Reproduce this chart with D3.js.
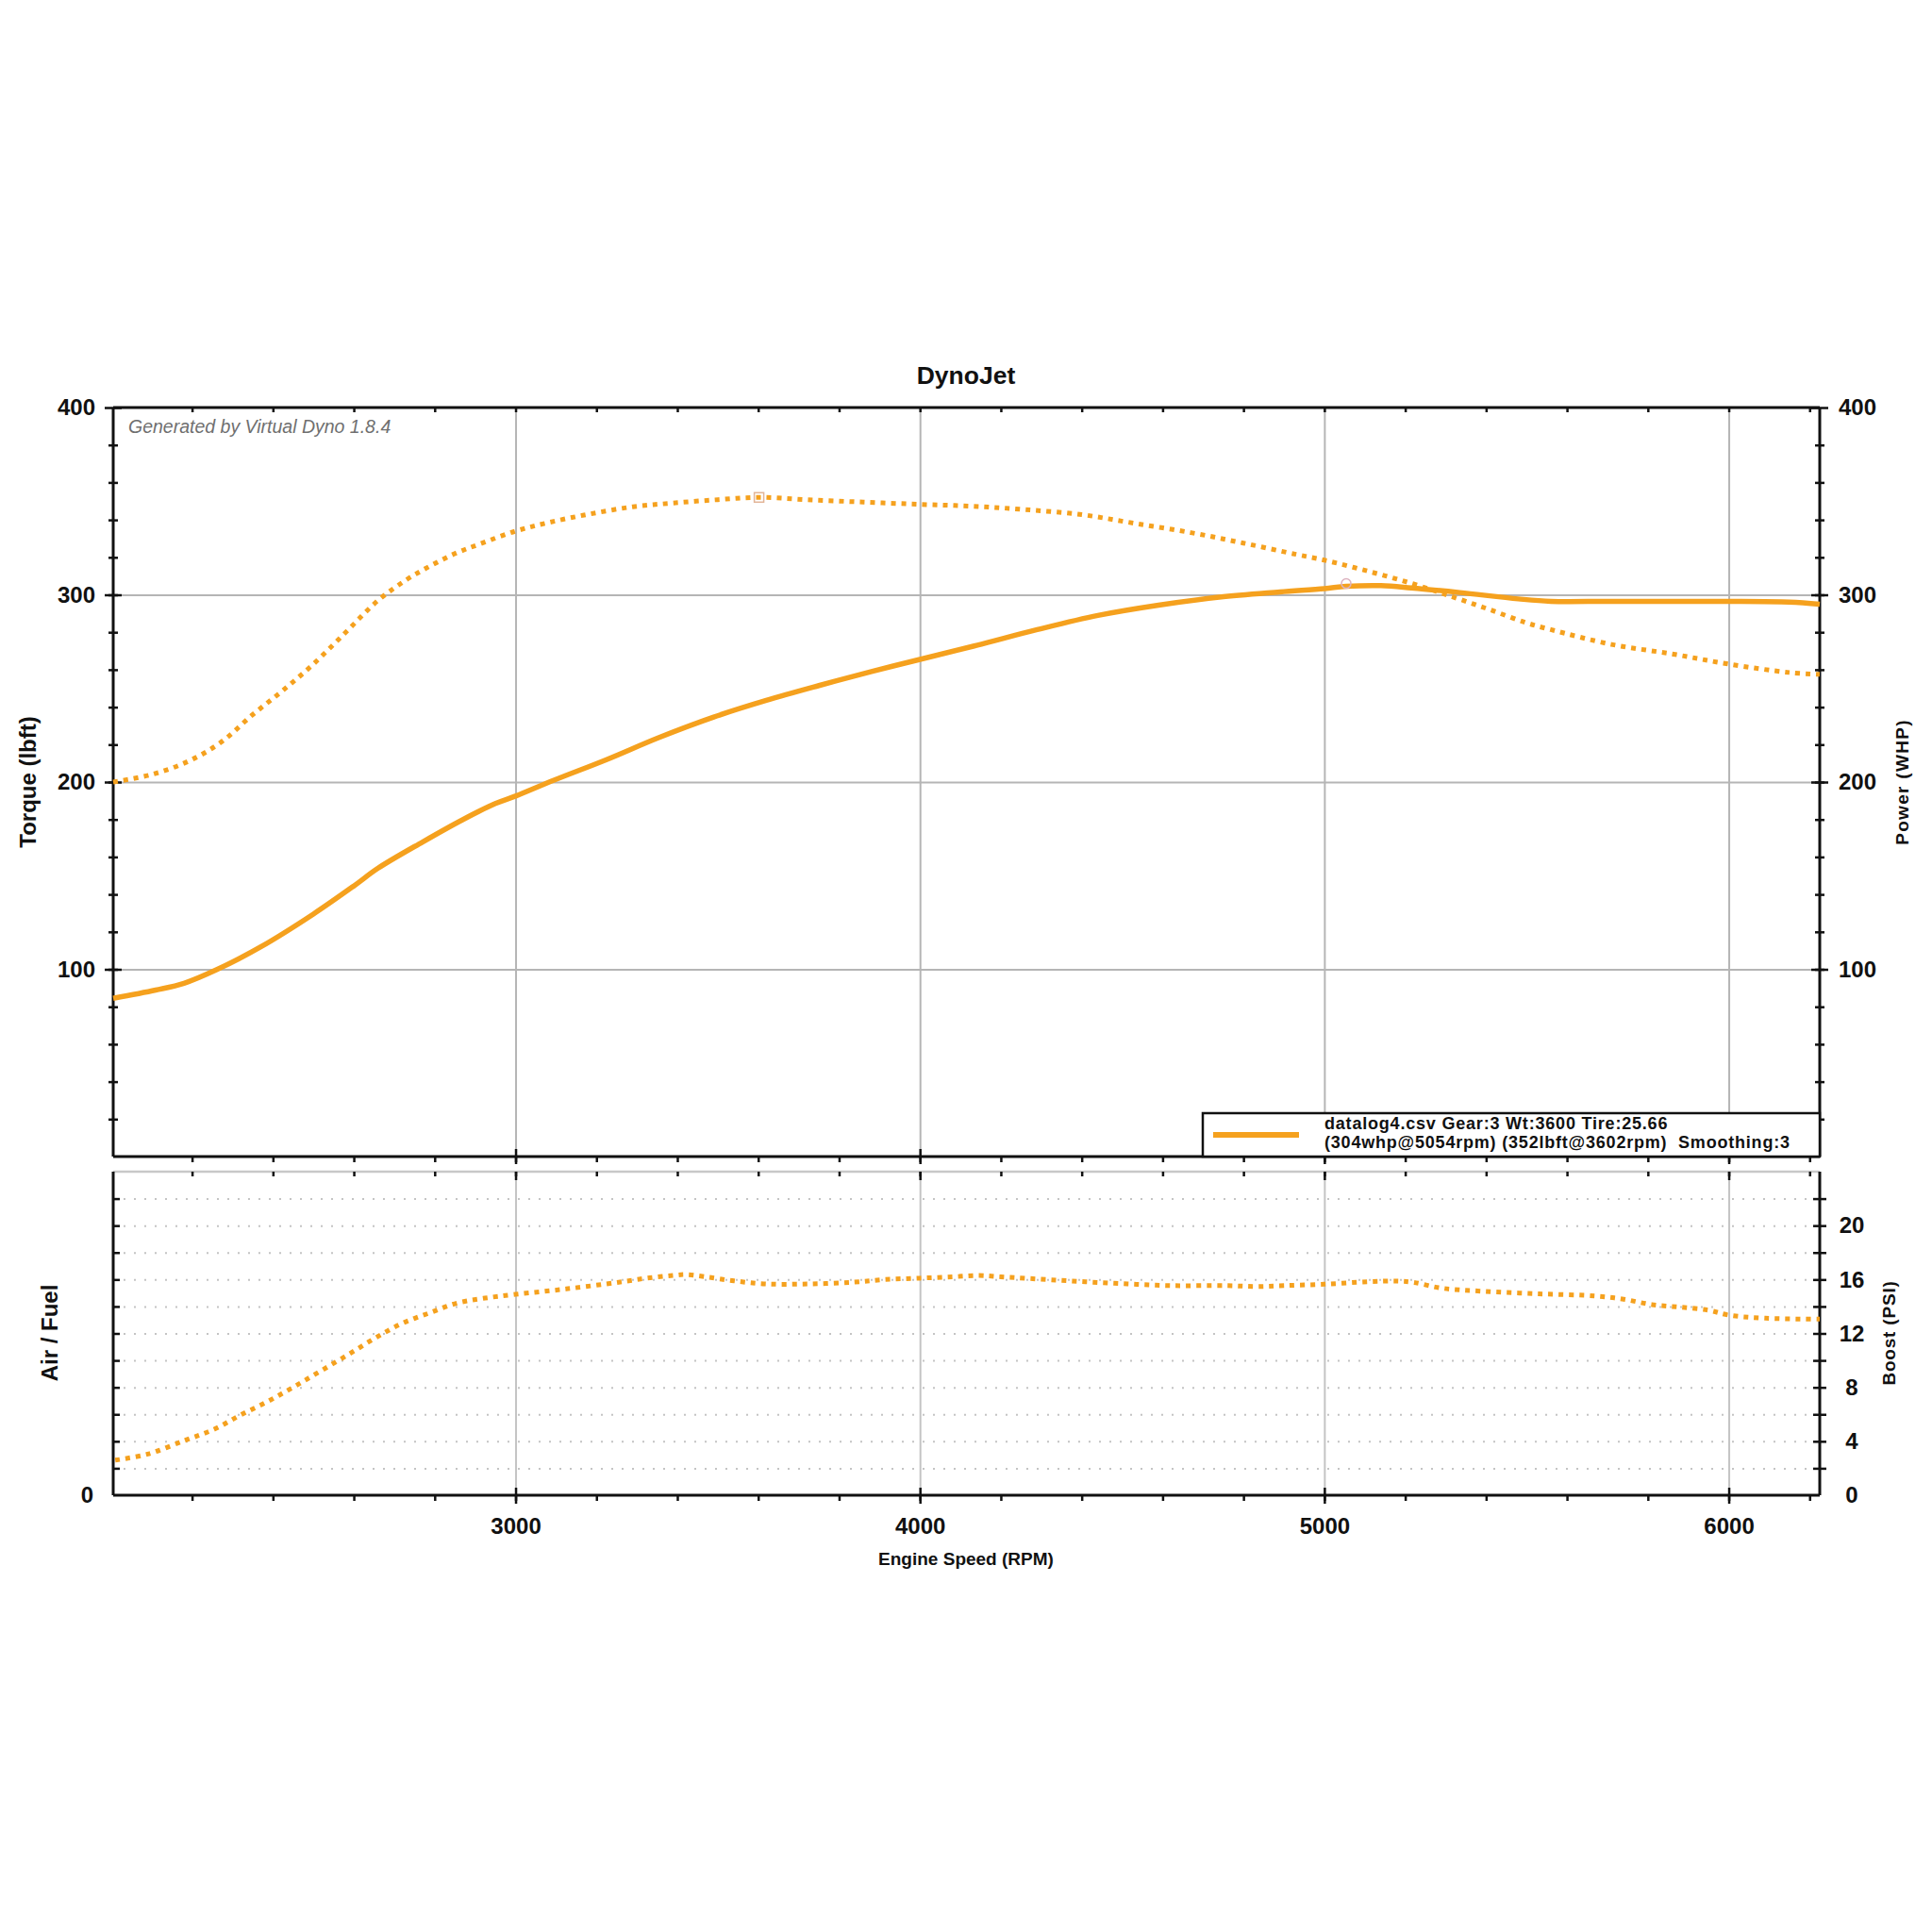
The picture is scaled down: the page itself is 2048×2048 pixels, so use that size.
<!DOCTYPE html>
<html>
<head>
<meta charset="utf-8">
<script src="https://cdn.jsdelivr.net/npm/d3@7"></script>
<style>
  body { margin: 0; background: #fff; }
  text { font-family: "Liberation Sans", Arial, sans-serif; }
</style>
</head>
<body>
<svg width="2048" height="2048"></svg>
<script>
// torque (dotted), lbft
const torqueRpm = [2005, 2100, 2190, 2270, 2350, 2425, 2500, 2580, 2660, 2730, 2790, 2850, 2910, 3000, 3080, 3180, 3290, 3390, 3500, 3602, 3720, 3860, 4000, 4130, 4260, 4400, 4530, 4670, 4800, 4930, 5000, 5110, 5220, 5320, 5410, 5500, 5560, 5710, 5860, 6000, 6150, 6225];
const torque    = [200, 204, 211, 221, 236, 249, 263, 280, 297, 308, 315.5, 322, 327, 334, 338.5, 343, 347, 349, 350.8, 352, 350.8, 349.5, 348.3, 347.3, 345.5, 342.8, 338.2, 333.2, 327.6, 321.6, 318.5, 312.5, 305.8, 298.7, 292, 285, 281.4, 273.5, 268.4, 263, 258.5, 257.5];

// power (solid), whp
const powerRpm = [2005, 2110, 2180, 2260, 2370, 2500, 2600, 2660, 2770, 2870, 2950, 3000, 3095, 3225, 3355, 3490, 3620, 3750, 3880, 4000, 4140, 4290, 4440, 4590, 4740, 4890, 5000, 5054, 5140, 5215, 5335, 5480, 5560, 5700, 5850, 6000, 6150, 6225];
const power    = [84.5, 88.9, 92.5, 99.7, 112, 129.5, 144.5, 154, 168, 180, 188.5, 192.5, 201, 212, 223.8, 234.7, 243.6, 251.5, 259, 265.5, 273, 281.4, 289, 294.5, 298.7, 301.5, 303.3, 304.5, 304.9, 303.7, 301.2, 297.8, 296.5, 296.5, 296.5, 296.5, 296.1, 295];

// boost (dotted, lower pane), psi
const boostRpm = [2010, 2090, 2185, 2255, 2320, 2390, 2455, 2520, 2590, 2655, 2720, 2790, 2855, 2920, 3000, 3125, 3255, 3325, 3390, 3420, 3470, 3540, 3620, 3725, 3835, 3915, 4000, 4080, 4145, 4200, 4340, 4480, 4620, 4760, 4830, 4900, 5000, 5110, 5180, 5220, 5290, 5390, 5530, 5670, 5740, 5810, 5880, 5950, 6000, 6090, 6225];
const boost    = [2.6, 3.05, 4.1, 4.9, 5.95, 7.0, 8.1, 9.25, 10.5, 11.7, 12.75, 13.55, 14.25, 14.6, 14.9, 15.3, 15.8, 16.1, 16.3, 16.37, 16.2, 15.9, 15.67, 15.67, 15.8, 16.0, 16.1, 16.2, 16.3, 16.2, 15.95, 15.72, 15.55, 15.55, 15.48, 15.55, 15.65, 15.84, 15.88, 15.79, 15.36, 15.13, 14.94, 14.78, 14.54, 14.14, 13.95, 13.72, 13.36, 13.13, 13.06];

const peakTorque = [3602, 352];
const peakPower = [5054, 304];

const rpmMajor = [3000, 4000, 5000, 6000];
const rpmMinor = d3.range(2200, 6201, 200);
const topLabels = [100, 200, 300, 400];
const topMinor = d3.range(20, 400, 20);
const boostLabels = [0, 4, 8, 12, 16, 20];
const boostMinor = d3.range(2, 24, 2);

const orange = '#f5a11e';

const svg = d3.select('svg');
svg.append('rect').attr('width', 2048).attr('height', 2048).attr('fill', '#fff');

const x = d3.scaleLinear().domain([2005, 6225]).range([120, 1929]);
const yTop = d3.scaleLinear().domain([0, 400]).range([1226, 432]);
const yBot = d3.scaleLinear().domain([0, 24]).range([1585, 1242]);

const [x0, x1] = x.range();

// ---- grids
function grid(axis, tr, color, dash) {
  const g = svg.append('g').attr('transform', tr).call(axis.tickFormat(''));
  g.select('.domain').remove();
  g.selectAll('.tick line').attr('stroke', color).attr('stroke-width', 2)
    .attr('stroke-dasharray', dash || null);
}
grid(d3.axisBottom(x).tickValues(rpmMajor).tickSize(-(yTop(0) - yTop(400))), `translate(0,${yTop(0)})`, '#b5b5b5');
grid(d3.axisLeft(yTop).tickValues([100, 200, 300]).tickSize(-(x1 - x0)), `translate(${x0},0)`, '#b5b5b5');
grid(d3.axisBottom(x).tickValues(rpmMajor).tickSize(-(yBot(0) - yBot(24))), `translate(0,${yBot(0)})`, '#c4c4c4');
grid(d3.axisLeft(yBot).tickValues(boostMinor).tickSize(-(x1 - x0)), `translate(${x0},0)`, '#c4c4c4', '2,9');

// ---- frame lines
function hline(y, color, w) {
  svg.append('line').attr('x1', x0).attr('x2', x1).attr('y1', y).attr('y2', y)
    .attr('stroke', color).attr('stroke-width', w);
}
function vline(xx, ya, yb) {
  svg.append('line').attr('x1', xx).attr('x2', xx).attr('y1', ya).attr('y2', yb)
    .attr('stroke', '#111').attr('stroke-width', 3);
}
hline(yTop(400), '#111', 3);
hline(yTop(0), '#111', 3);
hline(yBot(24), '#c8c8c8', 2.5);
hline(yBot(0), '#111', 3);
vline(x0, yTop(400), yTop(0));
vline(x1, yTop(400), yTop(0));
vline(x0, yBot(24), yBot(0));
vline(x1, yBot(24), yBot(0));

// ---- ticks
function tk(make, scale, vals, tr, out, inn) {
  const g = svg.append('g').attr('transform', tr)
    .call(make(scale).tickValues(vals).tickSize(out).tickFormat(''));
  g.select('.domain').remove();
  const l = g.selectAll('.tick line').attr('stroke', '#111').attr('stroke-width', 2.5);
  if (inn) {
    if (make === d3.axisLeft) l.attr('x1', inn);
    if (make === d3.axisRight) l.attr('x1', -inn);
    if (make === d3.axisBottom) l.attr('y1', -inn);
  }
}
// top pane
tk(d3.axisLeft, yTop, topMinor, `translate(${x0},0)`, 5, 5);
tk(d3.axisLeft, yTop, topLabels, `translate(${x0},0)`, 9, 9);
tk(d3.axisRight, yTop, topMinor, `translate(${x1},0)`, 5, 5);
tk(d3.axisRight, yTop, topLabels, `translate(${x1},0)`, 9, 9);
tk(d3.axisBottom, x, rpmMinor, `translate(0,${yTop(400)})`, 5);
tk(d3.axisBottom, x, rpmMinor, `translate(0,${yTop(0)})`, 6);
tk(d3.axisBottom, x, rpmMajor, `translate(0,${yTop(0)})`, 8, 8);
// bottom pane
tk(d3.axisBottom, x, rpmMinor, `translate(0,${yBot(24)})`, 5);
tk(d3.axisBottom, x, rpmMajor, `translate(0,${yBot(24)})`, 9);
tk(d3.axisBottom, x, rpmMinor, `translate(0,${yBot(0)})`, 6);
tk(d3.axisBottom, x, rpmMajor, `translate(0,${yBot(0)})`, 9, 8);
tk(d3.axisRight, yBot, boostMinor, `translate(${x0},0)`, 7);
tk(d3.axisRight, yBot, boostMinor, `translate(${x1},0)`, 7, 7);

// ---- tick labels
function labels(axis, tr, anchor, dx) {
  const g = svg.append('g').attr('transform', tr).call(axis.tickSize(0).tickFormat(d3.format('d')));
  g.select('.domain').remove();
  g.attr('font-family', '"Liberation Sans", Arial, sans-serif')
    .attr('font-size', 24).attr('font-weight', 'bold');
  g.selectAll('text').attr('fill', '#111');
  if (anchor) g.selectAll('text').attr('text-anchor', anchor).attr('x', dx);
}
labels(d3.axisLeft(yTop).tickValues(topLabels).tickPadding(19), `translate(${x0},0)`);
labels(d3.axisRight(yTop).tickValues(topLabels).tickPadding(20), `translate(${x1},0)`);
labels(d3.axisRight(yBot).tickValues(boostLabels), `translate(${x1},0)`, 'middle', 34);
labels(d3.axisLeft(yBot).tickValues([0]).tickPadding(21), `translate(${x0},0)`);
labels(d3.axisBottom(x).tickValues(rpmMajor).tickPadding(24), `translate(0,${yBot(0)})`);

// ---- curves
const line = (ys) => d3.line().x(d => x(d[0])).y(d => ys(d[1])).curve(d3.curveCatmullRom.alpha(0.5));

svg.append('path').datum(d3.zip(powerRpm, power))
  .attr('d', line(yTop)).attr('fill', 'none')
  .attr('stroke', orange).attr('stroke-width', 5.5).attr('stroke-linejoin', 'round');

svg.append('path').datum(d3.zip(torqueRpm, torque))
  .attr('d', line(yTop)).attr('fill', 'none')
  .attr('stroke', orange).attr('stroke-width', 5).attr('stroke-dasharray', '5,6');

svg.append('path').datum(d3.zip(boostRpm, boost))
  .attr('d', line(yBot)).attr('fill', 'none')
  .attr('stroke', orange).attr('stroke-width', 5).attr('stroke-dasharray', '5,6');

// peak markers
svg.append('rect')
  .attr('x', x(peakTorque[0]) - 5).attr('y', yTop(peakTorque[1]) - 5)
  .attr('width', 10).attr('height', 10)
  .attr('fill', 'none').attr('stroke', '#e2b497').attr('stroke-width', 1.5);
svg.append('circle')
  .attr('cx', x(peakPower[0])).attr('cy', yTop(peakPower[1]) - 4).attr('r', 5)
  .attr('fill', 'none').attr('stroke', '#dcb2bf').attr('stroke-width', 1.5);

// ---- texts
svg.append('text').attr('x', 1024).attr('y', 407).attr('text-anchor', 'middle')
  .attr('font-size', 26.5).attr('font-weight', 'bold').attr('fill', '#111').text('DynoJet');

svg.append('text').attr('x', 136).attr('y', 459)
  .attr('font-size', 19.5).attr('font-style', 'italic').attr('fill', '#6f6f6f')
  .text('Generated by Virtual Dyno 1.8.4');

function vtext(cx, cy, size, ls, str) {
  svg.append('text').attr('transform', `translate(${cx},${cy}) rotate(-90)`)
    .attr('text-anchor', 'middle').attr('dy', '0.35em')
    .attr('font-size', size).attr('font-weight', 'bold')
    .attr('letter-spacing', ls).attr('fill', '#111').text(str);
}
vtext(30, 829, 24, 0, 'Torque (lbft)');
vtext(2016, 829, 19, 1.3, 'Power (WHP)');
vtext(53, 1413, 24, 0, 'Air / Fuel');
vtext(2002, 1413, 19, 0.8, 'Boost (PSI)');

svg.append('text').attr('x', 1024).attr('y', 1659).attr('text-anchor', 'middle')
  .attr('font-size', 19).attr('font-weight', 'bold').attr('fill', '#111')
  .text('Engine Speed (RPM)');

// ---- legend
const lg = svg.append('g');
lg.append('rect').attr('x', 1275).attr('y', 1180).attr('width', x1 - 1275).attr('height', 46)
  .attr('fill', '#fff').attr('stroke', '#111').attr('stroke-width', 2.5);
lg.append('line').attr('x1', 1286).attr('x2', 1377).attr('y1', 1203).attr('y2', 1203)
  .attr('stroke', orange).attr('stroke-width', 6);
const legendLines = ['datalog4.csv Gear:3 Wt:3600 Tire:25.66', '(304whp@5054rpm) (352lbft@3602rpm)  Smoothing:3'];
lg.selectAll('text.lg').data(legendLines).join('text')
  .attr('x', 1404).attr('y', (d, i) => 1197 + i * 20)
  .attr('font-size', 18).attr('font-weight', 'bold').attr('letter-spacing', 0.8)
  .attr('fill', '#111').style('white-space', 'pre').text(d => d);
</script>
</body>
</html>
